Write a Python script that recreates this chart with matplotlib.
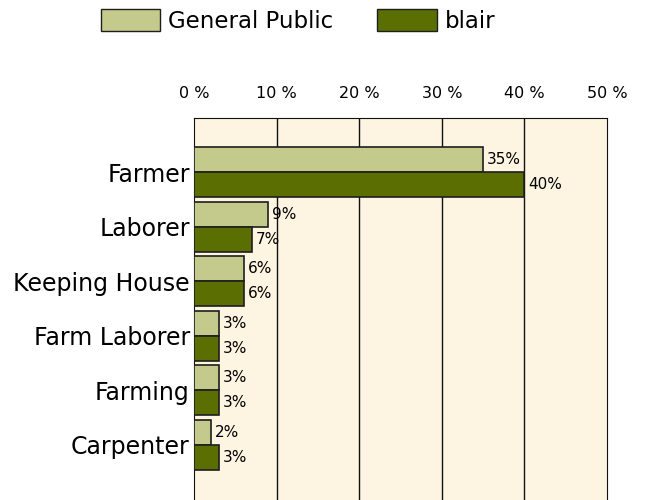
import numpy as np
import matplotlib.pyplot as plt
from matplotlib.patches import Patch

categories = ['Farmer', 'Laborer', 'Keeping House', 'Farm Laborer', 'Farming', 'Carpenter']
general_public = [35, 9, 6, 3, 3, 2]
blair = [40, 7, 6, 3, 3, 3]
ticks = [0, 10, 20, 30, 40, 50]

light = '#c4ca8b'
dark = '#5b6e02'

fig = plt.figure(figsize=(6.45, 5.0), dpi=100)
# plot area runs past the bottom of the picture, as in the original
ax = fig.add_axes([194 / 645, -0.02, (607 - 194) / 645, (500 - 118) / 500 + 0.02])
ax.set_facecolor('#fdf5e1')

y = np.arange(len(categories))
h = 0.46
ax.barh(y - h / 2, general_public, height=h, color=light, edgecolor='#1e1e1e', linewidth=1.2, zorder=3)
ax.barh(y + h / 2, blair, height=h, color=dark, edgecolor='#1e1e1e', linewidth=1.2, zorder=3)

for i in range(len(categories)):
    ax.text(general_public[i] + 0.5, y[i] - h / 2, f'{general_public[i]}%', va='center', ha='left', fontsize=11, zorder=4)
    ax.text(blair[i] + 0.5, y[i] + h / 2, f'{blair[i]}%', va='center', ha='left', fontsize=11, zorder=4)

ax.set_xlim(0, 50)
ax.set_ylim(6.2, -1.0)
ax.set_xticks(ticks)
ax.set_xticklabels([f'{t} %' for t in ticks], fontsize=11.5)
ax.xaxis.tick_top()
ax.tick_params(axis='x', length=0, pad=12)
ax.set_yticks(y)
ax.set_yticklabels(categories, fontsize=17)
ax.tick_params(axis='y', length=0, pad=3)
for t in ticks[1:-1]:
    ax.axvline(t, color='#111111', linewidth=1, zorder=2)
for s in ['top', 'left', 'right']:
    ax.spines[s].set_color('#111111')
ax.spines['bottom'].set_visible(False)

handles = [Patch(facecolor=light, edgecolor='#1e1e1e', label='General Public'),
           Patch(facecolor=dark, edgecolor='#1e1e1e', label='blair')]
fig.legend(handles=handles, loc='center', bbox_to_anchor=(0.462, 0.958), ncol=2, frameon=False,
           fontsize=16.5, handlelength=2.6, handleheight=1.1, handletextpad=0.35, columnspacing=1.9,
           borderpad=0)

fig.savefig('out.png', dpi=100)
